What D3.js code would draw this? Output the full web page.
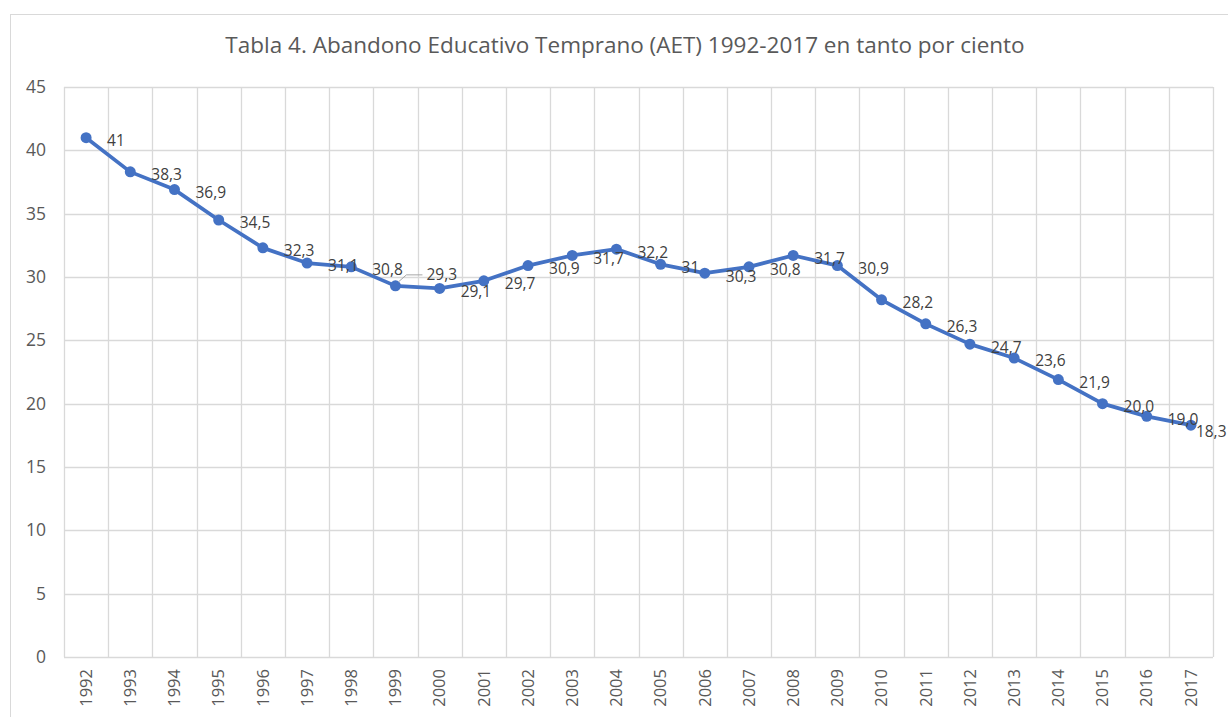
<!DOCTYPE html>
<html>
<head>
<meta charset="utf-8">
<script src="https://cdn.jsdelivr.net/npm/d3@7"></script>
<style>
  body { margin: 0; background: #fff; }
  text { font-family: "Open Sans", "Noto Sans", sans-serif; }
</style>
</head>
<body>
<svg id="chart" width="1228" height="717"></svg>
<script>
(function() {

const years = ['1992', '1993', '1994', '1995', '1996', '1997', '1998', '1999', '2000', '2001',
  '2002', '2003', '2004', '2005', '2006', '2007', '2008', '2009', '2010', '2011',
  '2012', '2013', '2014', '2015', '2016', '2017'];
const aet = [41, 38.3, 36.9, 34.5, 32.3, 31.1, 30.8, 29.3, 29.1, 29.7,
  30.9, 31.7, 32.2, 31, 30.3, 30.8, 31.7, 30.9, 28.2, 26.3,
  24.7, 23.6, 21.9, 20.0, 19.0, 18.3];
const labels = ['41', '38,3', '36,9', '34,5', '32,3', '31,1', '30,8', '29,3', '29,1', '29,7',
  '30,9', '31,7', '32,2', '31', '30,3', '30,8', '31,7', '30,9', '28,2', '26,3',
  '24,7', '23,6', '21,9', '20,0', '19,0', '18,3'];
const yTicks = [0, 5, 10, 15, 20, 25, 30, 35, 40, 45];
const title = 'Tabla 4. Abandono Educativo Temprano (AET) 1992-2017 en tanto por ciento';

const svg = d3.select('#chart');
const margin = {top: 87, right: 15, bottom: 60, left: 64};
const width = 1228 - margin.left - margin.right;
const height = 717 - margin.top - margin.bottom;

const grid = '#d9d9d9';
const blue = '#4472c4';

// outer chart border
svg.append('rect')
  .attr('x', 10.5).attr('y', 14.5)
  .attr('width', 1240).attr('height', 720)
  .attr('fill', 'none')
  .attr('stroke', grid);

svg.append('text')
  .attr('x', 625)
  .attr('y', 53)
  .attr('text-anchor', 'middle')
  .attr('fill', '#595959')
  .style('font-size', '22.5px')
  .text(title);

const g = svg.append('g')
  .attr('transform', `translate(${margin.left},${margin.top})`);

const x = d3.scaleBand()
  .domain(years)
  .range([0, width]);

const y = d3.scaleLinear()
  .domain([0, 45])
  .range([height, 0]);

// horizontal gridlines
g.append('g')
  .selectAll('line')
  .data(yTicks)
  .enter().append('line')
    .attr('x1', 0).attr('x2', width)
    .attr('y1', d => Math.round(y(d)) + 0.5)
    .attr('y2', d => Math.round(y(d)) + 0.5)
    .attr('stroke', grid)
    .attr('stroke-width', 1.3);

// vertical gridlines between categories
const bounds = years.map(d => x(d)).concat([width]);
g.append('g')
  .selectAll('line')
  .data(bounds)
  .enter().append('line')
    .attr('x1', d => Math.round(d) + 0.5)
    .attr('x2', d => Math.round(d) + 0.5)
    .attr('y1', 0).attr('y2', height)
    .attr('stroke', grid)
    .attr('stroke-width', 1.3);

// y axis labels
const yAxis = g.append('g')
  .call(d3.axisLeft(y).tickValues(yTicks).tickSize(0).tickPadding(18));
yAxis.select('.domain').remove();
yAxis.selectAll('text')
  .attr('fill', '#595959')
  .style('font-size', '17.5px')
  .style('font-family', '"Open Sans", "Noto Sans", sans-serif');

// x axis labels
const xAxis = g.append('g')
  .attr('transform', `translate(0,${height})`)
  .call(d3.axisBottom(x).tickSize(0));
xAxis.select('.domain').remove();
xAxis.selectAll('text')
  .attr('transform', 'rotate(-90)')
  .attr('x', -12)
  .attr('y', 0)
  .attr('dy', '0.35em')
  .attr('text-anchor', 'end')
  .attr('fill', '#595959')
  .style('font-size', '16.5px')
  .style('font-family', '"Open Sans", "Noto Sans", sans-serif');

const cx = (d, i) => x(years[i]) + x.bandwidth() / 2;

const line = d3.line()
  .x((d, i) => cx(d, i))
  .y(d => y(d));

g.append('path')
  .datum(aet)
  .attr('fill', 'none')
  .attr('stroke', blue)
  .attr('stroke-width', 3.75)
  .attr('stroke-linejoin', 'round')
  .attr('d', line);

g.append('g')
  .selectAll('circle')
  .data(aet)
  .enter().append('circle')
    .attr('cx', cx)
    .attr('cy', d => y(d))
    .attr('r', 5.5)
    .attr('fill', blue);

// label offsets: default right of point, a few moved by hand as in the original
const dx = (i) => i === 7 ? 31 : (i === aet.length - 1 ? 5 : 21);
const dy = (i) => i === 7 ? -11 : (i === aet.length - 1 ? 6 : 3);

// leader line for the moved 1999 label
const i99 = 7;
g.append('polyline')
  .attr('points', [
    [cx(0, i99) + 3, y(aet[i99]) - 4],
    [cx(0, i99) + 11, y(aet[i99]) - 11],
    [cx(0, i99) + 27, y(aet[i99]) - 11]
  ].join(' '))
  .attr('fill', 'none')
  .attr('stroke', '#a6a6a6')
  .attr('stroke-width', 1);

g.append('g')
  .selectAll('text')
  .data(aet)
  .enter().append('text')
    .attr('x', (d, i) => cx(d, i) + dx(i))
    .attr('y', (d, i) => y(d) + dy(i))
    .attr('dy', '0.35em')
    .attr('fill', '#404040')
    .style('font-size', '15.5px')
    .text((d, i) => labels[i]);

})();
</script>
</body>
</html>
